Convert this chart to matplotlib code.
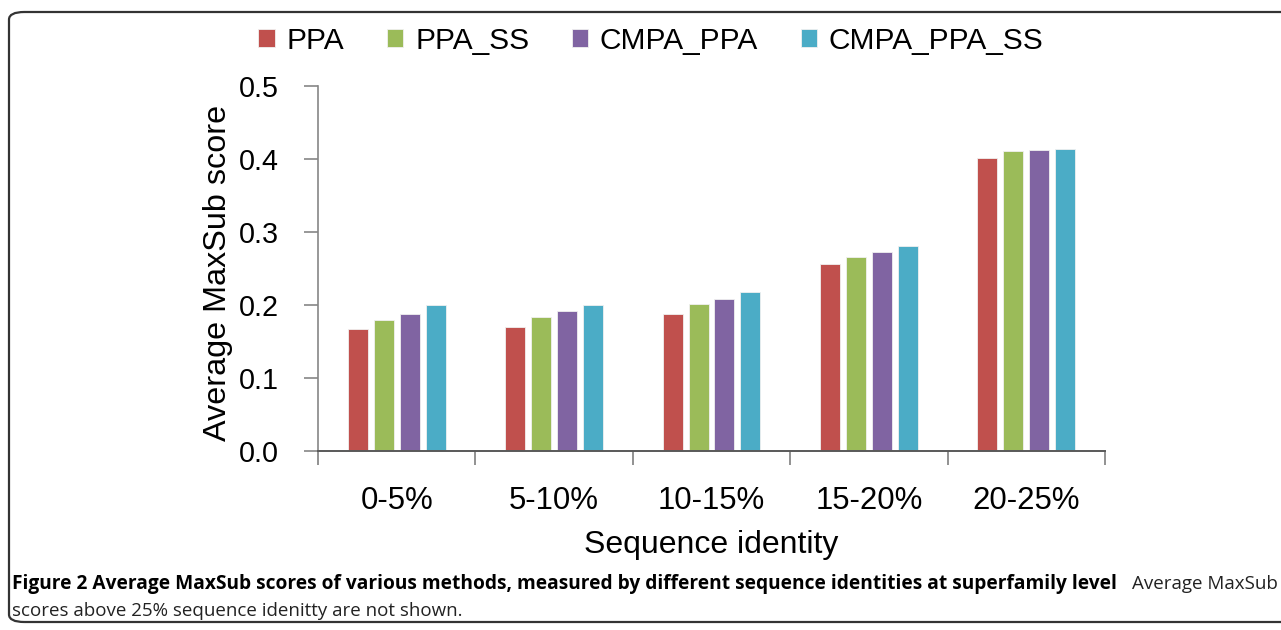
import numpy as np
import matplotlib
matplotlib.use('Agg')
import matplotlib.pyplot as plt
from matplotlib.patches import FancyBboxPatch

# data
categories = ['0-5%', '5-10%', '10-15%', '15-20%', '20-25%']
methods = ['PPA', 'PPA_SS', 'CMPA_PPA', 'CMPA_PPA_SS']
ppa = [0.167, 0.170, 0.188, 0.256, 0.402]
ppa_ss = [0.180, 0.183, 0.201, 0.266, 0.411]
cmpa_ppa = [0.188, 0.192, 0.208, 0.273, 0.412]
cmpa_ppa_ss = [0.200, 0.200, 0.218, 0.281, 0.414]
colors = ['#C0504D', '#9BBB59', '#8064A2', '#4BACC6']

plt.rcParams['font.family'] = ['Liberation Sans', 'DejaVu Sans']

W, H = 1281, 630
fig = plt.figure(figsize=(W / 100, H / 100), dpi=100)

# rounded frame around figure + caption
frame = FancyBboxPatch((9 / W, 8 / H), 1.2, 610 / H,
                       boxstyle='round,pad=0,rounding_size=0.012',
                       transform=fig.transFigure, fill=False,
                       edgecolor='#333333', linewidth=1.6)
fig.patches.append(frame)

ax = fig.add_axes([318 / W, (H - 451) / H, 787 / W, 365 / H])

x = np.arange(len(categories))
series = [ppa, ppa_ss, cmpa_ppa, cmpa_ppa_ss]
step = 0.165
for i, (vals, name) in enumerate(zip(series, methods)):
    ax.bar(x + (i - 1.5) * step, vals, width=0.127, color=colors[i],
           edgecolor='#f0f0f0', linewidth=0.6, label=name, zorder=2)

ax.set_xlim(-0.5, len(categories) - 0.5)
ax.set_ylim(0, 0.5)
ax.set_yticks([0, 0.1, 0.2, 0.3, 0.4, 0.5])
ax.set_yticklabels(['0.0', '0.1', '0.2', '0.3', '0.4', '0.5'], fontsize=20.7)
ax.set_xticks(x)
ax.set_xticklabels(categories, fontsize=22.4)
ax.set_xticks(np.arange(-0.5, len(categories)), minor=True)
ax.tick_params(axis='x', which='major', length=0, pad=25)
ax.tick_params(axis='x', which='minor', length=10, color='#7f7f7f', width=1.2)
ax.tick_params(axis='y', length=10, color='#868686', width=1.2, pad=18)

for s in ['top', 'right']:
    ax.spines[s].set_visible(False)
ax.spines['left'].set_color('#868686')
ax.spines['left'].set_linewidth(1.2)
ax.spines['bottom'].set_color('#595959')
ax.spines['bottom'].set_linewidth(1.4)

ax.set_ylabel('Average MaxSub score', fontsize=23.3)
ax.yaxis.set_label_coords((233 - 318) / 787, (451 - 273) / 365)
ax.set_xlabel('Sequence identity', fontsize=23)
ax.xaxis.set_label_coords(0.5, -(530 - 451) / 365)

fig.legend(loc='center', bbox_to_anchor=(651 / W, 1 - 41 / H), ncol=4,
           frameon=False, fontsize=21.5, handlelength=0.55, handleheight=0.55,
           handletextpad=0.4, columnspacing=1.42)

fig.text(12 / W, 1 - 584 / H,
         'Figure 2 Average MaxSub scores of various methods, measured by different sequence identities at superfamily level',
         family='Open Sans', fontweight='bold', fontsize=13.8, va='center', ha='left')
fig.text(1278 / W, 1 - 584 / H, 'Average MaxSub', family='Open Sans',
         fontsize=13.5, va='center', ha='right', color='#222222')
fig.text(12 / W, 1 - 611 / H, 'scores above 25% sequence idenitty are not shown.',
         family='Open Sans', fontsize=13.5, va='center', ha='left', color='#222222')

fig.savefig('out.png', dpi=100)
